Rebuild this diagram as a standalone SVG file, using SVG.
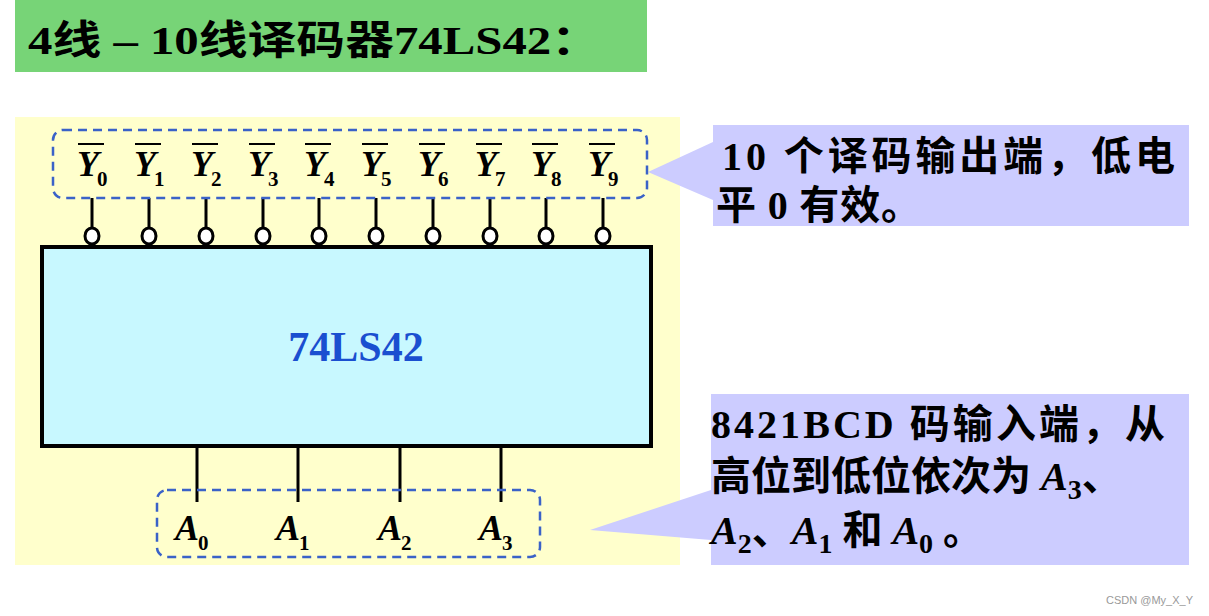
<svg xmlns="http://www.w3.org/2000/svg" width="1209" height="616" viewBox="0 0 1209 616">
<defs>
<style>
.t{font-family:"Liberation Serif","Noto Sans CJK SC",serif;font-weight:bold;fill:#000}
.v{font-family:"Liberation Serif",serif;font-weight:bold;font-style:italic;font-size:36px}
.s{font-family:"Liberation Serif",serif;font-weight:bold;font-size:21px}
.dash{fill:none;stroke:#3a62c8;stroke-width:2.5;stroke-dasharray:9,6}
.pin{stroke:#000;stroke-width:3}
.bub{fill:#fff;stroke:#000;stroke-width:3}
.call{fill:#ccccff}
</style>
</defs>
<rect width="1209" height="616" fill="#fff"/>
<rect x="15" y="0" width="632" height="72" fill="#77d477"/>
<text class="t" x="28" y="54" font-size="40" textLength="572" lengthAdjust="spacingAndGlyphs">4线 – 10线译码器74LS42：</text>
<rect x="15" y="117" width="665" height="448" fill="#ffffcc"/>
<g id="callout-top"><polygon class="call" points="648,172 713,142 713,200"/><rect class="call" x="713" y="125" width="476" height="101"/>
<text class="t" x="722" y="170" font-size="40" textLength="453">10 个译码输出端，低电</text>
<text class="t" x="716" y="219" font-size="40" textLength="205">平 0 有效。</text></g>
<g id="callout-bottom"><polygon class="call" points="590,530 711,490 711,540"/><rect class="call" x="711" y="394" width="478" height="171"/>
<text class="t" x="711" y="438" font-size="40" textLength="454">8421BCD 码输入端，从</text>
<text class="t" x="711" y="490" font-size="40">高位到低位依次为 <tspan font-style="italic">A</tspan><tspan font-size="28" dy="9">3</tspan><tspan dy="-9">、</tspan></text>
<text class="t" x="711" y="544" font-size="40"><tspan font-style="italic">A</tspan><tspan font-size="28" dy="9">2</tspan><tspan dy="-9">、</tspan><tspan font-style="italic">A</tspan><tspan font-size="28" dy="9">1</tspan><tspan dy="-9"> 和 </tspan><tspan font-style="italic">A</tspan><tspan font-size="28" dy="9">0</tspan><tspan dy="-9"> 。</tspan></text></g>
<g id="connectors">
<g class="pin">
<line x1="92" y1="198" x2="92" y2="228"/><line x1="149" y1="198" x2="149" y2="228"/><line x1="206" y1="198" x2="206" y2="228"/><line x1="263" y1="198" x2="263" y2="228"/><line x1="319" y1="198" x2="319" y2="228"/><line x1="376" y1="198" x2="376" y2="228"/><line x1="433" y1="198" x2="433" y2="228"/><line x1="490" y1="198" x2="490" y2="228"/><line x1="546" y1="198" x2="546" y2="228"/><line x1="603" y1="198" x2="603" y2="228"/>
<line x1="197" y1="446" x2="197" y2="502"/><line x1="298" y1="446" x2="298" y2="502"/><line x1="400" y1="446" x2="400" y2="502"/><line x1="501" y1="446" x2="501" y2="502"/>
</g>
<g class="bub">
<ellipse cx="92" cy="236" rx="7" ry="8"/><ellipse cx="149" cy="236" rx="7" ry="8"/><ellipse cx="206" cy="236" rx="7" ry="8"/><ellipse cx="263" cy="236" rx="7" ry="8"/><ellipse cx="319" cy="236" rx="7" ry="8"/><ellipse cx="376" cy="236" rx="7" ry="8"/><ellipse cx="433" cy="236" rx="7" ry="8"/><ellipse cx="490" cy="236" rx="7" ry="8"/><ellipse cx="546" cy="236" rx="7" ry="8"/><ellipse cx="603" cy="236" rx="7" ry="8"/>
</g>
</g>
<g id="outputs"><rect class="dash" x="53" y="130" width="594" height="68" rx="10"/>
<g stroke="#000" stroke-width="2"><line x1="78" y1="144" x2="104" y2="144"/><line x1="135" y1="144" x2="161" y2="144"/><line x1="192" y1="144" x2="218" y2="144"/><line x1="249" y1="144" x2="275" y2="144"/><line x1="305" y1="144" x2="331" y2="144"/><line x1="362" y1="144" x2="388" y2="144"/><line x1="419" y1="144" x2="445" y2="144"/><line x1="476" y1="144" x2="502" y2="144"/><line x1="532" y1="144" x2="558" y2="144"/><line x1="589" y1="144" x2="615" y2="144"/></g>
<text class="v" x="77" y="176">Y</text><text class="s" x="97" y="186">0</text>
<text class="v" x="134" y="176">Y</text><text class="s" x="154" y="186">1</text>
<text class="v" x="191" y="176">Y</text><text class="s" x="211" y="186">2</text>
<text class="v" x="248" y="176">Y</text><text class="s" x="268" y="186">3</text>
<text class="v" x="304" y="176">Y</text><text class="s" x="324" y="186">4</text>
<text class="v" x="361" y="176">Y</text><text class="s" x="381" y="186">5</text>
<text class="v" x="418" y="176">Y</text><text class="s" x="438" y="186">6</text>
<text class="v" x="475" y="176">Y</text><text class="s" x="495" y="186">7</text>
<text class="v" x="531" y="176">Y</text><text class="s" x="551" y="186">8</text>
<text class="v" x="588" y="176">Y</text><text class="s" x="608" y="186">9</text></g>
<g id="chip"><rect x="42" y="247" width="609" height="199" fill="#c8f8ff" stroke="#000" stroke-width="4"/>
<text x="356" y="361" text-anchor="middle" font-family="Liberation Serif,serif" font-weight="bold" font-size="42" fill="#1a4fd0">74LS42</text></g>
<g id="inputs"><rect class="dash" x="157" y="490" width="383" height="67" rx="10"/>
<text class="v" x="175" y="540">A</text><text class="s" x="198" y="550">0</text>
<text class="v" x="276" y="540">A</text><text class="s" x="299" y="550">1</text>
<text class="v" x="378" y="540">A</text><text class="s" x="401" y="550">2</text>
<text class="v" x="479" y="540">A</text><text class="s" x="502" y="550">3</text></g>
<text x="1193" y="604" text-anchor="end" font-family="Liberation Sans,sans-serif" font-size="11" fill="#999">CSDN @My_X_Y</text>
</svg>
